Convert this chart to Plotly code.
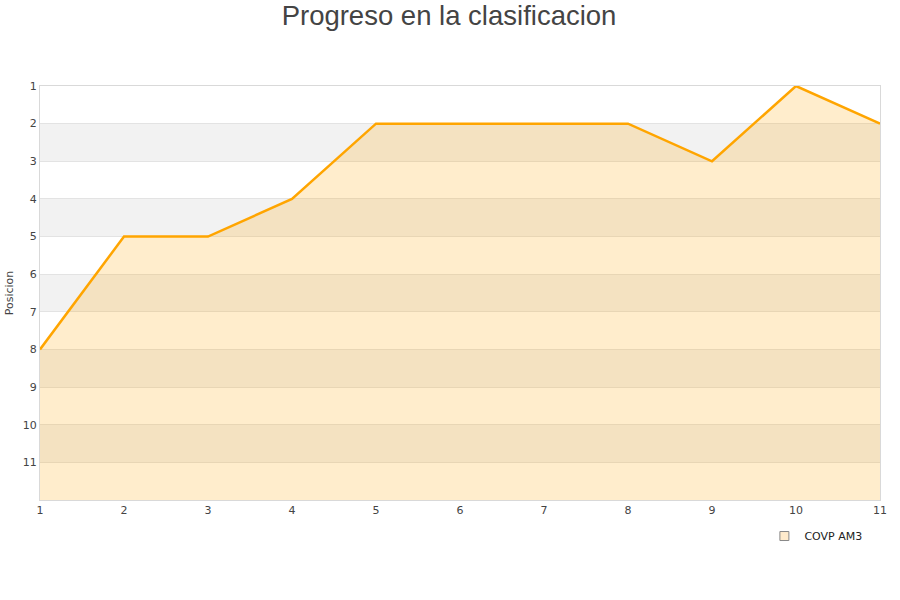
import plotly.graph_objects as go

jornadas = [1, 2, 3, 4, 5, 6, 7, 8, 9, 10, 11]
posiciones = [8, 5, 5, 4, 2, 2, 2, 2, 3, 1, 2]
y_ticks = [1, 2, 3, 4, 5, 6, 7, 8, 9, 10, 11]
serie = "COVP AM3"
fondo_max = 12

fig = go.Figure()

# baseline for the fill
fig.add_trace(go.Scatter(x=jornadas, y=[fondo_max] * len(jornadas), mode="lines",
                         line=dict(width=0, color="rgba(0,0,0,0)"), showlegend=False,
                         hoverinfo="skip"))
fig.add_trace(go.Scatter(x=jornadas, y=posiciones, mode="lines", fill="tonexty",
                         fillcolor="rgba(255,165,0,0.2)",
                         line=dict(color="#ffa500", width=2.5), showlegend=False, name=serie))
# legend entry
fig.add_trace(go.Scatter(x=[None], y=[None], mode="markers", name=serie,
                         marker=dict(symbol="square", size=9, color="#ffebcc",
                                     line=dict(color="#888", width=1))))

shapes = []
for k in range(2, 12, 2):
    shapes.append(dict(type="rect", xref="paper", x0=0, x1=1, yref="y", y0=k, y1=k + 1,
                       fillcolor="#f2f2f2", line=dict(width=0), layer="below"))

fig.update_layout(
    width=900, height=600,
    paper_bgcolor="white", plot_bgcolor="white",
    margin=dict(l=40, r=20, t=86, b=100, autoexpand=False),
    title=dict(text="Progreso en la clasificacion", xref="container", x=0.4989, xanchor="center",
               y=0.974, yanchor="middle",
               font=dict(family="Liberation Sans, Arial", size=27.5, color="#444")),
    font=dict(family="DejaVu Sans", size=11, color="#444"),
    shapes=shapes,
    showlegend=True,
    legend=dict(x=0.985, xanchor="right", y=-0.087, yanchor="middle",
                font=dict(size=11, color="#222"), bgcolor="rgba(0,0,0,0)"),
    hovermode=False,
)
fig.update_xaxes(range=[1, 11], tickvals=jornadas, showgrid=False, zeroline=False,
                 showline=True, linecolor="#d9d9d9", mirror=True, ticks="", automargin=False,
                 tickfont=dict(size=11, color="#444"))
fig.update_yaxes(range=[fondo_max, 1], tickvals=y_ticks, showgrid=True, gridcolor="#e3e3e3",
                 zeroline=False, showline=True, linecolor="#d9d9d9", mirror=True, ticks="",
                 automargin=False,
                 title=dict(text="Posicion", font=dict(size=11, color="#444"), standoff=6),
                 tickfont=dict(size=11, color="#444"))

fig.write_html("out.html", config={"displayModeBar": False},
               post_script="document.body.style.margin='0';")
